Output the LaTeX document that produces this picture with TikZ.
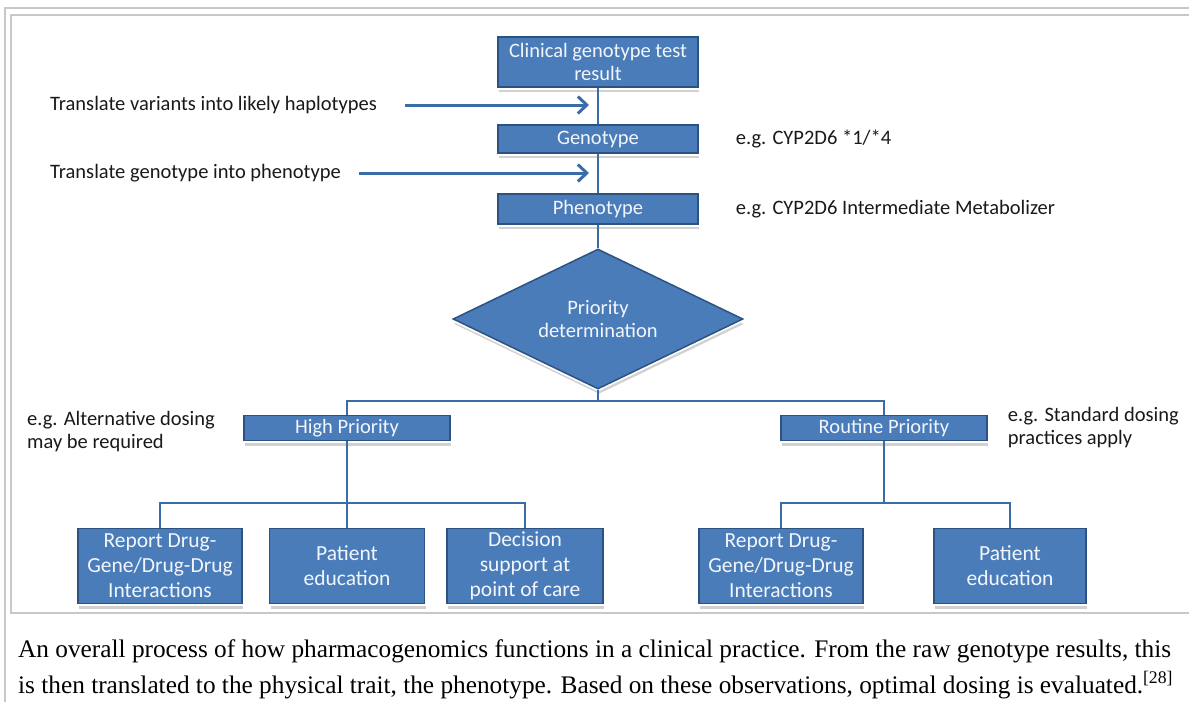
\documentclass[tikz,border=0pt]{standalone}
\usepackage{fontspec}
\setmainfont{Carlito}
\newfontfamily\capfont{Liberation Serif}
\usepackage{tikz}
\usetikzlibrary{arrows.meta, positioning, shapes.geometric, shadows}
\definecolor{boxblue}{HTML}{4A7CBA}
\definecolor{boxedge}{HTML}{2C5282}
\definecolor{linkblue}{HTML}{3A6CA8}
\definecolor{framegray}{HTML}{C8C8C8}
\definecolor{boxtext}{HTML}{F2F6FB}
\tikzset{
  pbox/.style={rectangle, draw=boxedge, fill=boxblue, line width=1.5pt,
               text=boxtext, align=center, inner sep=0pt, minimum width=#1,
               font=\fontsize{20.5}{23}\selectfont,
               drop shadow={shadow xshift=1pt, shadow yshift=-5pt,
                            fill=black!40, opacity=.45},
               preaction={draw=white, line width=5pt}},
  pbox/.default=200pt,
  cbox/.style={pbox=#1, minimum height=75pt,
               font=\fontsize{21.5}{25}\selectfont},
  dbox/.style={diamond, draw=boxedge, fill=boxblue, line width=1.5pt,
               text=boxtext, align=center, inner sep=0pt, aspect=2,
               minimum width=290pt, minimum height=140pt,
               font=\fontsize{20.5}{23}\selectfont,
               drop shadow={shadow xshift=1pt, shadow yshift=-5pt,
                            fill=black!40, opacity=.45},
               preaction={draw=white, line width=5pt}},
  note/.style={inner sep=0pt, text=black!90, font=\fontsize{20.5}{23}\selectfont},
  link/.style={draw=linkblue, line width=2.5pt},
  arr/.style={-{Straight Barb[length=9pt, width=17pt]}, draw=linkblue, line width=3pt},
  frame/.style={draw=framegray, line width=2pt},
  captext/.style={inner sep=0pt, anchor=base west,
                  font=\capfont\fontsize{25.3}{36}\selectfont},
}
\begin{document}
\begin{tikzpicture}[x=1pt, y=-1pt]
  \useasboundingbox (0,0) rectangle (1189,702);
  % frame of the figure
  \draw[frame] (5,702) -- (5,8) -- (1189,8);
  \draw[frame] (1189,15) -- (11,15) -- (11,613) -- (1189,613);

  % main column
  \node[pbox, minimum height=50pt] (clin) at (598,62) {Clinical genotype test\\result};
  \node[pbox, minimum height=28pt] (geno) at (598,139) {Genotype};
  \node[pbox, minimum height=30pt] (pheno) at (598,209) {Phenotype};
  \node[dbox] (prio) at (598,319) {Priority\\determination};
  \draw[link] (clin) -- (geno);
  \draw[link] (geno) -- (pheno);
  \draw[link] (pheno) -- (prio);

  % translation steps
  \node[note, anchor=west] (trvar) at (50,105) {Translate variants into likely haplotypes};
  \node[note, anchor=west] (trgen) at (50,173) {Translate genotype into phenotype};
  \coordinate (tipvar) at (589,105);
  \coordinate (tipgen) at (589,173);
  \draw[arr, shorten <=28pt] (trvar.east) -- (tipvar);
  \draw[arr, shorten <=18pt] (trgen.east) -- (tipgen);
  \node[note, right=37pt of geno] (exgeno) {e.g. CYP2D6 *1/*4};
  \node[note, right=37pt of pheno] (expheno) {e.g. CYP2D6 Intermediate Metabolizer};

  % priority split
  \node[pbox=206pt, minimum height=25pt] (high) at (347,428) {High Priority};
  \node[pbox=206pt, minimum height=25pt] (rout) at (884,428) {Routine Priority};
  \coordinate (split) at (598,401);
  \draw[link] (prio) -- (split);
  \draw[link] (split) -| (high);
  \draw[link] (split) -| (rout);
  \node[note, anchor=west, align=left] (altdose) at (27,432) {e.g. Alternative dosing\\may be required};
  \node[note, align=left, right=20pt of rout] (stddose) {e.g. Standard dosing\\practices apply};

  % actions
  \node[cbox=164pt] (hrep) at (160,566) {Report Drug-\\Gene/Drug-Drug\\Interactions};
  \node[cbox=155pt] (hedu) at (347,566) {Patient\\education};
  \node[cbox=156pt] (hdec) at (525,566) {Decision\\support at\\point of care};
  \node[cbox=164pt] (rrep) at (781,566) {Report Drug-\\Gene/Drug-Drug\\Interactions};
  \node[cbox=152pt] (redu) at (1010,566) {Patient\\education};
  \coordinate (hsplit) at (347,503);
  \coordinate (rsplit) at (884,503);
  \draw[link] (high) -- (hsplit);
  \draw[link] (rout) -- (rsplit);
  \foreach \c in {hrep, hedu, hdec}
    \draw[link] (hsplit) -| (\c);
  \foreach \c in {rrep, redu}
    \draw[link] (rsplit) -| (\c);

  % caption
  \node[captext] (cap1) at (18,657) {An overall process of how pharmacogenomics functions in a clinical practice. From the raw genotype results, this};
  \node[captext] (cap2) at (18,693) {is then translated to the physical trait, the phenotype. Based on these observations, optimal dosing is evaluated.\textsuperscript{[28]}};
\end{tikzpicture}
\end{document}
